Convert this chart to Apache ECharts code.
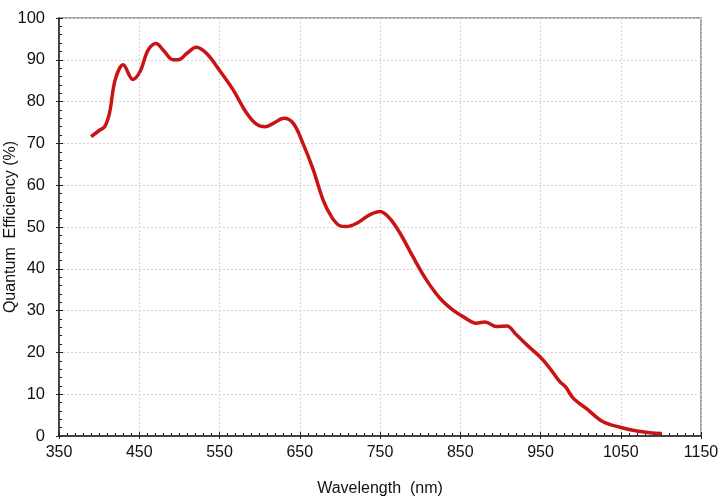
<!DOCTYPE html>
<html><head><meta charset="utf-8">
<script src="https://cdn.jsdelivr.net/npm/echarts@6/dist/echarts.min.js"></script>
<style>html,body{margin:0;padding:0;background:#fff}#c{width:725px;height:502px}</style>
</head><body><div id="c"></div>
<script>
var wavelength = [390,401,407,413,420,430,442,451,461,471,480,492,499,509,521,534,551,567,584,596,607,617,630,642,654,667,679,690,700,708,721,737,750,762,775,791,808,825,841,854,870,881,895,908,920,933,949,960,974,981,991,1007,1028,1049,1070,1086,1101];
var qe = [71.6,73.2,74,77.3,85.2,88.8,85.3,87.2,92.3,93.9,92.3,90,90,91.5,93,91.5,87.2,82.8,77.2,74.6,74,74.8,76,74.8,70,63.6,56.5,52.3,50.3,50.1,50.9,52.9,53.7,52.1,48.5,42.9,37.3,32.9,30.1,28.5,27,27.3,26.2,26.3,24.2,21.8,19,16.6,13,11.8,9,6.6,3.4,2.1,1.2,0.8,0.6];
var xTitle = 'Wavelength  (nm)';
var yTitle = 'Quantum  Efficiency (%)';
var pts = wavelength.map(function(w,i){return [w, qe[i]];});
var font = 'Liberation Sans, Arial, sans-serif';
var chart = echarts.init(document.getElementById('c'));
var gridLine = {show:true, lineStyle:{color:'#d4d4d4', type:[2,2], width:1}};
var plain = function(v){return String(v);};
chart.setOption({
  animation:false,
  grid:{left:59, right:24, top:18, bottom:66, containLabel:false, outerBoundsMode:'none', show:true, borderColor:'#888', borderWidth:1.5},
  xAxis:[{
    type:'value', min:350, max:1150, interval:100,
    name:xTitle, nameLocation:'middle', nameGap:45,
    nameTextStyle:{fontFamily:font, fontSize:16, color:'#111'},
    axisLine:{show:true, onZero:false, lineStyle:{color:'#222', width:1.5}},
    axisTick:{show:true, inside:true, length:4, lineStyle:{color:'#222'}},
    minorTick:{show:true, splitNumber:10, length:3, lineStyle:{color:'#222'}},
    axisLabel:{fontFamily:font, fontSize:16, color:'#111', margin:9, formatter:plain},
    splitLine:gridLine
  },{
    type:'value', min:350, max:1150, interval:100, position:'bottom',
    axisLine:{show:false}, axisTick:{show:true, inside:false, length:3, lineStyle:{color:'#222'}},
    axisLabel:{show:false}, splitLine:{show:false}
  }],
  yAxis:[{
    type:'value', min:0, max:100, interval:10,
    name:yTitle, nameLocation:'middle', nameGap:40, nameMoveOverlap:false,
    nameTextStyle:{fontFamily:font, fontSize:16, color:'#111'},
    axisLine:{show:true, onZero:false, lineStyle:{color:'#222', width:1.5}},
    axisTick:{show:true, inside:true, length:4, lineStyle:{color:'#222'}},
    minorTick:{show:true, splitNumber:5, length:3, lineStyle:{color:'#222'}},
    axisLabel:{fontFamily:font, fontSize:16.5, color:'#111', margin:14, formatter:plain},
    splitLine:gridLine
  },{
    type:'value', min:0, max:100, interval:10, position:'left',
    axisLine:{show:false}, axisTick:{show:true, inside:false, length:3, lineStyle:{color:'#222'}},
    axisLabel:{show:false}, splitLine:{show:false}
  }],
  series:[{
    type:'line', data:pts, smooth:0.35, showSymbol:false,
    lineStyle:{color:'#c81414', width:3.5}
  }]
});
</script></body></html>
